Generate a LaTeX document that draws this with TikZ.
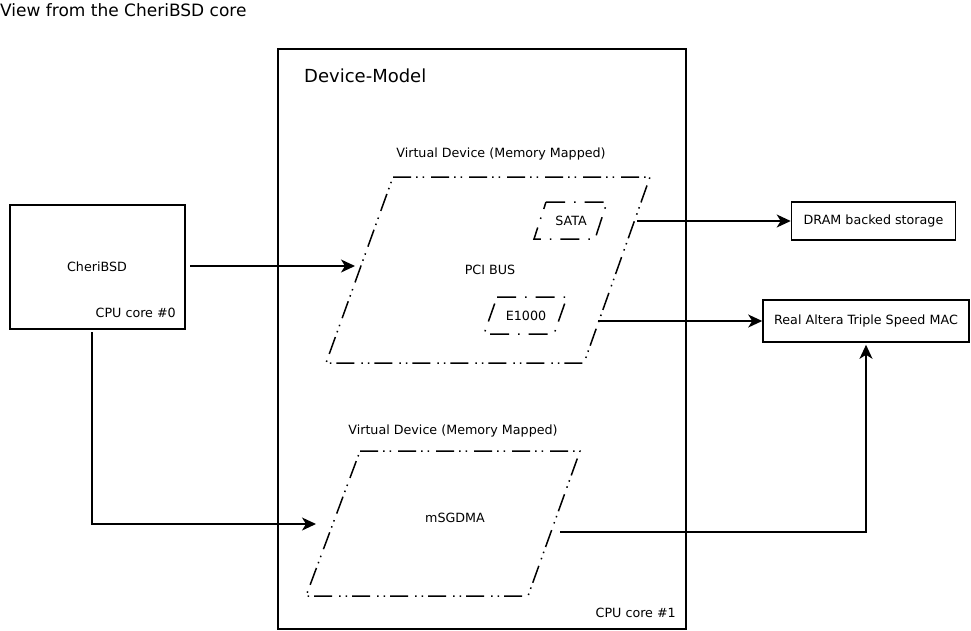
\documentclass[tikz,border=0pt]{standalone}
\usepackage{fontspec}
\setmainfont{DejaVu Sans}
\usetikzlibrary{arrows.meta}
\begin{document}
\begin{tikzpicture}[x=1pt,y=-1pt,
  box/.style={draw,line width=1.6pt,inner sep=0pt},
  small/.style={font=\fontsize{12.7}{15}\selectfont,inner sep=0pt},
  ddot/.style={line width=1.5pt,dash pattern=on 18pt off 5pt on 1.5pt off 5pt on 1.5pt off 7pt},
  sdot/.style={line width=1.5pt,dash pattern=on 19pt off 9pt on 1.5pt off 9pt},
  arr/.style={line width=1.6pt,-{Stealth[length=14pt,width=13pt,inset=4pt]}}]
\useasboundingbox[fill=white] (0,0) rectangle (971,630);
% title
\node[anchor=base west,inner sep=0pt,font=\fontsize{17}{20}\selectfont] (title) at (0,16) {View from the CheriBSD core};
% Device model box
\node[box,minimum width=408pt,minimum height=580pt] (dm) at (482,339) {};
\node[anchor=base west,inner sep=0pt,font=\fontsize{18}{21}\selectfont] (dmlabel) at (304,82) {Device-Model};
\node[small,anchor=base east] (core1) at (676,617) {CPU core \#1};
% CheriBSD box
\node[box,minimum width=175pt,minimum height=124pt] (cheri) at (97.5,267) {};
\node[small] (cherilabel) at (97,267) {CheriBSD};
\node[small,anchor=base east] (core0) at (176,317) {CPU core \#0};
% PCI parallelogram
\coordinate (p1) at (393,177);
\coordinate (p2) at (650,177);
\coordinate (p3) at (584,363);
\coordinate (p4) at (326,363);
\draw[ddot] (p1) -- (p2) -- (p3) -- (p4) -- cycle;
\node[small] (vd1) at (501,154) {Virtual Device (Memory Mapped)};
\node[small] (pci) at (490,270) {PCI BUS};
% SATA
\coordinate (s1) at (546,202);
\coordinate (s2) at (607,202);
\coordinate (s3) at (595,239);
\coordinate (s4) at (534,239);
\draw[sdot] (s1) -- (s2) -- (s3) -- (s4) -- cycle;
\node[small] (sata) at (571,221) {SATA};
% E1000
\coordinate (e1) at (497,297);
\coordinate (e2) at (567,297);
\coordinate (e3) at (554,334);
\coordinate (e4) at (484,334);
\draw[sdot] (e1) -- (e2) -- (e3) -- (e4) -- cycle;
\node[small] (e1000) at (526,316) {E1000};
% mSGDMA
\coordinate (m1) at (360,451);
\coordinate (m2) at (580,451);
\coordinate (m3) at (528,596);
\coordinate (m4) at (306,596);
\draw[ddot] (m1) -- (m2) -- (m3) -- (m4) -- cycle;
\node[small] (vd2) at (453,431) {Virtual Device (Memory Mapped)};
\node[small] (msgdma) at (455,518) {mSGDMA};
% right boxes
\node[box,minimum width=164pt,minimum height=38pt] (dram) at (873.5,221) {};
\node[small] (dramlabel) at (873.5,221) {DRAM backed storage};
\node[box,minimum width=206pt,minimum height=42pt] (mac) at (866,321) {};
\node[small] (maclabel) at (866,321) {Real Altera Triple Speed MAC};
% connector end points
\coordinate (a1s) at (190,266);
\coordinate (a1e) at (355,266);
\coordinate (a2s) at (92,332);
\coordinate (a2e) at (316,524);
\coordinate (a3s) at (637,221);
\coordinate (a4s) at (598,321);
\coordinate (a5s) at (560,532);
\draw[arr] (a1s) -- (a1e);
\draw[arr] (a2s) |- (a2e);
\draw[arr] (a3s) -- (dram.west);
\draw[arr] (a4s) -- (mac.west);
\draw[arr,shorten >=2pt] (a5s) -| (mac.south);
\end{tikzpicture}
\end{document}
